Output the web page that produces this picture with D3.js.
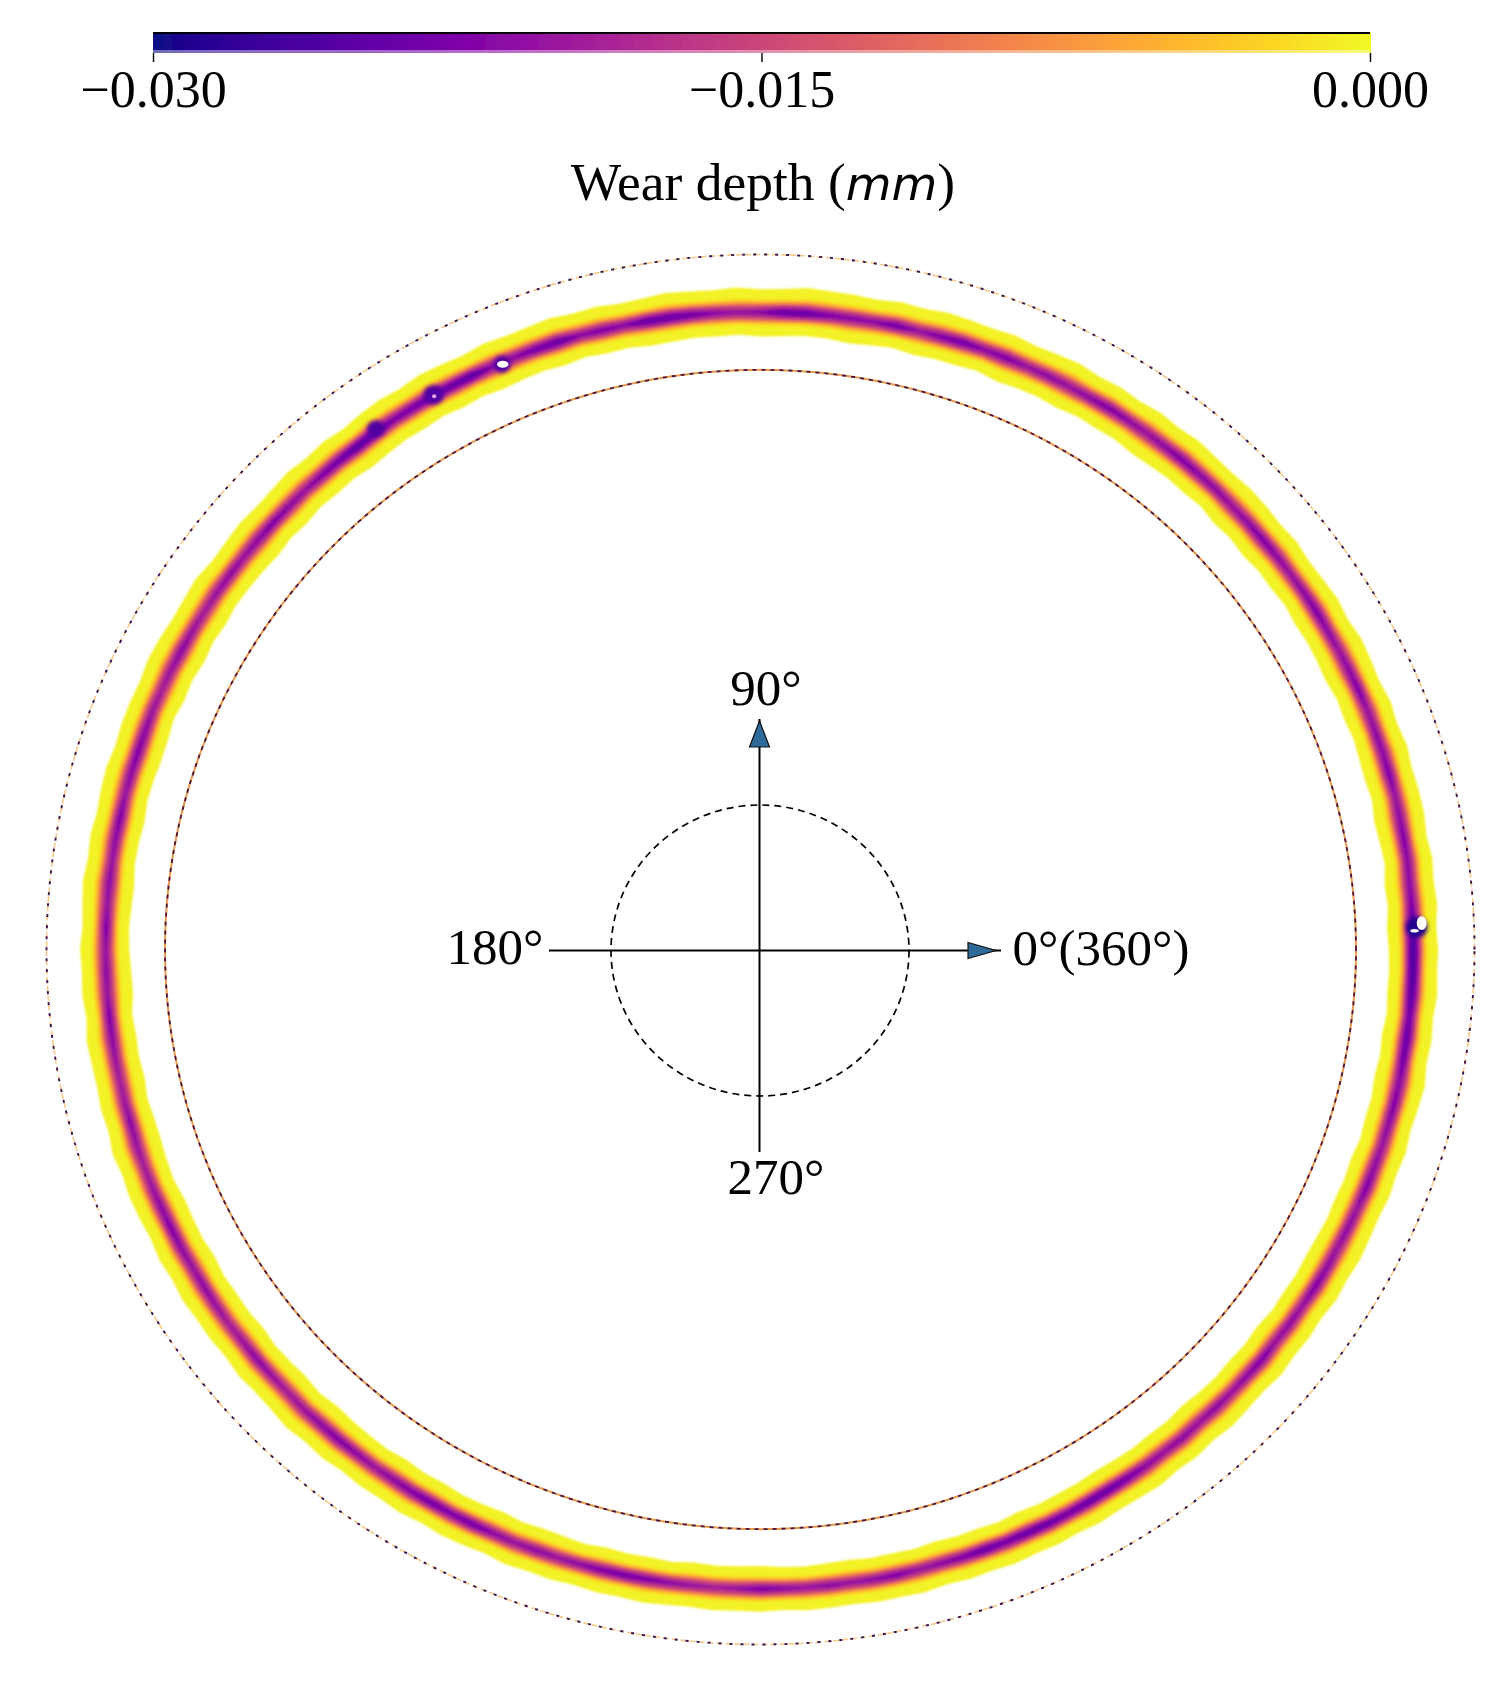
<!DOCTYPE html>
<html><head><meta charset="utf-8">
<script src="https://cdn.jsdelivr.net/npm/d3@7/dist/d3.min.js"></script>
<style>html,body{margin:0;padding:0;background:#fff}svg{display:block}text{font-family:"Liberation Serif",serif;fill:#000}</style>
</head><body><svg id="c" width="1504" height="1686"></svg>
<script>
// Samples every 2 degrees, counter-clockwise from 0 deg. Radius unit: outer rim = 100. 9 rows of 20 values.
const sampleAngles = d3.range(180).map(i => i * 2);
const coreRadius = [91.4,91.4,91.4,91.4,91.5,91.5,91.5,91.6,91.6,91.6,91.6,91.7,91.7,91.7,91.7,91.7,91.8,91.8,91.8,91.8,
91.8,91.8,91.8,91.9,91.9,91.9,91.9,91.9,91.9,91.9,91.8,91.8,91.8,91.8,91.8,91.8,91.8,91.7,91.7,91.7,
91.7,91.7,91.7,91.7,91.7,91.7,91.7,91.8,91.8,91.8,91.8,91.8,91.8,91.9,91.9,91.9,91.9,91.9,91.9,91.9,
91.9,91.9,91.9,91.9,91.8,91.8,91.8,91.8,91.8,91.8,91.8,91.8,91.8,91.8,91.8,91.8,91.8,91.8,91.8,91.8,
91.7,91.7,91.7,91.7,91.7,91.7,91.7,91.7,91.7,91.7,91.7,91.7,91.7,91.7,91.7,91.7,91.7,91.7,91.7,91.8,
91.8,91.8,91.8,91.8,91.8,91.8,91.8,91.9,91.9,91.9,91.9,91.9,91.9,92.0,92.0,92.0,92.0,92.0,92.0,92.0,
92.0,92.0,92.0,92.0,92.0,92.0,92.0,92.0,92.0,92.0,92.0,92.0,92.0,92.0,92.0,92.0,92.0,92.0,92.0,92.0,
92.0,92.0,91.9,91.9,91.9,91.9,91.9,91.9,91.9,91.9,91.8,91.8,91.8,91.8,91.8,91.8,91.7,91.7,91.7,91.7,
91.7,91.6,91.6,91.6,91.6,91.6,91.5,91.5,91.5,91.5,91.5,91.5,91.5,91.5,91.5,91.4,91.4,91.4,91.4,91.4];
const edgeOuter = [3.5,3.3,3.6,3.4,3.5,3.2,3.5,3.4,3.3,3.6,3.3,3.5,3.2,3.4,3.6,3.3,3.5,3.3,3.2,3.5,
3.3,3.5,3.6,3.3,3.4,3.6,3.3,3.5,3.2,3.4,3.3,3.6,3.4,3.2,3.5,3.3,3.4,3.6,3.3,3.5,
3.2,3.4,3.5,3.7,3.4,3.3,3.6,3.3,3.4,3.6,3.3,3.2,3.5,3.3,3.6,3.4,3.3,3.5,3.2,3.4,
3.6,3.3,3.5,3.4,3.2,3.5,3.3,3.6,3.4,3.3,3.5,3.3,3.2,3.6,3.4,3.3,3.5,3.6,3.3,3.4,
3.5,3.3,3.6,3.5,3.3,3.6,3.4,3.7,3.5,3.3,3.6,3.4,3.5,3.2,3.6,3.4,3.3,3.5,3.3,3.6,
3.3,3.5,3.4,3.2,3.5,3.3,3.6,3.3,3.4,3.2,3.5,3.3,3.4,3.6,3.3,3.5,3.2,3.4,3.3,3.5,
3.2,3.4,3.3,3.1,3.4,3.2,3.3,3.1,3.3,3.2,3.4,3.2,3.1,3.3,3.2,3.3,3.1,3.3,3.2,3.1,
3.3,3.2,3.4,3.1,3.3,3.2,3.4,3.2,3.3,3.1,3.4,3.2,3.3,3.5,3.2,3.4,3.2,3.5,3.3,3.2,
3.5,3.3,3.4,3.2,3.5,3.3,3.6,3.4,3.3,3.5,3.3,3.5,3.2,3.4,3.6,3.3,3.5,3.3,3.6,3.4];
const edgeInner = [3.4,3.6,3.3,3.5,3.2,3.4,3.6,3.3,3.5,3.4,3.2,3.5,3.3,3.6,3.4,3.3,3.5,3.2,3.4,3.3,
3.6,3.3,3.5,3.2,3.4,3.3,3.5,3.6,3.3,3.4,3.2,3.5,3.3,3.4,3.6,3.2,3.4,3.3,3.5,3.2,
3.4,3.6,3.3,3.2,3.4,3.5,3.2,3.4,3.3,3.5,3.6,3.3,3.4,3.2,3.5,3.3,3.4,3.6,3.3,3.5,
3.2,3.4,3.3,3.5,3.6,3.3,3.4,3.2,3.5,3.3,3.6,3.4,3.3,3.2,3.5,3.3,3.6,3.3,3.5,3.2,
3.4,3.5,3.3,3.2,3.5,3.3,3.2,3.5,3.4,3.2,3.3,3.5,3.6,3.2,3.4,3.3,3.5,3.2,3.4,3.5,
3.3,3.2,3.5,3.4,3.3,3.5,3.2,3.4,3.3,3.5,3.2,3.3,3.4,3.2,3.5,3.3,3.2,3.1,3.4,3.2,
3.3,3.1,3.2,3.4,3.1,3.3,3.2,3.0,3.3,3.1,3.2,3.0,3.3,3.1,3.2,3.3,3.1,3.0,3.2,3.3,
3.1,3.2,3.0,3.3,3.1,3.2,3.0,3.3,3.1,3.2,3.1,3.3,3.2,3.1,3.3,3.2,3.4,3.2,3.1,3.3,
3.2,3.4,3.1,3.3,3.2,3.4,3.3,3.2,3.4,3.3,3.5,3.2,3.4,3.3,3.6,3.3,3.5,3.2,3.4,3.3];
const peakDepth = [-27,-26,-23,-22,-22,-23,-22,-21,-23,-22,-22,-21,-23,-22,-21,-22,-23,-22,-21,-22,
-23,-22,-21,-22,-22,-23,-22,-21,-22,-23,-22,-21,-22,-21,-23,-22,-24,-23,-21,-24,
-22,-22,-23,-25,-25,-22,-21,-22,-24,-25,-25,-22,-23,-22,-25,-24,-22,-22,-26,-25,
-25,-24,-23,-26,-26,-24,-23,-21,-22,-23,-22,-21,-22,-21,-20,-21,-22,-21,-20,-21,
-22,-23,-22,-21,-23,-22,-21,-22,-21,-23,-21,-22,-21,-23,-22,-21,-20,-21,-22,-21,
-20,-21,-22,-23,-22,-21,-22,-21,-20,-21,-22,-21,-20,-21,-22,-23,-22,-21,-22,-23,
-24,-23,-24,-22,-21,-22,-21,-22,-23,-24,-23,-22,-21,-20,-21,-23,-22,-21,-22,-21,
-22,-23,-21,-22,-23,-25,-24,-25,-25,-24,-25,-25,-24,-22,-21,-22,-21,-22,-21,-22,
-23,-21,-22,-21,-23,-22,-21,-22,-21,-23,-22,-21,-22,-23,-22,-24,-25,-24,-26,-27];
const profileRatio = [0, .03, .1, .2, .35, .5, .7, .85, 1];
const profileWidth = [1, .6, .52, .45, .38, .32, .24, .13, 0];
const contourLevels = d3.range(0, -30, -1);
const pits = [[91.9,3.2,1.5,-29],[-36.2,84.2,1.2,-26],[-45.8,79.8,1.4,-26],[-53.9,74.9,1.2,-26]];
const holes = [[92.6,3.8,0.7,1.0,"#fff"],[91.6,2.7,0.6,0.25,"#fff"],[-36.1,84.2,0.8,0.5,"#fff"],[-45.7,79.6,0.3,0.3,"#e9a6f0"]];
const rims = [100, 83.4];
const barDomain = [-0.030, 0];
const barTicks = [-0.030, -0.015, 0];
const crossLabels = [["90°",766,705],["270°",776,1194],["180°",495,964],["0°(360°)",1101,965]];

const svg = d3.select("#c");
const defs = svg.append("defs");
defs.append("filter").attr("id","soft").append("feGaussianBlur").attr("stdDeviation",0.7);
defs.append("filter").attr("id","band").attr("x","-5%").attr("y","-5%").attr("width","110%").attr("height","110%")
  .append("feGaussianBlur").attr("stdDeviation",1.3);
defs.append("filter").attr("id","pit").attr("x","-60%").attr("y","-60%").attr("width","220%").attr("height","220%")
  .append("feGaussianBlur").attr("stdDeviation",2.2);
const root = svg.append("g").attr("filter","url(#soft)");

const x = d3.scaleLinear().domain([-100,100]).range([760.5-714, 760.5+714]);
const y = d3.scaleLinear().domain([-100,100]).range([949.5+695, 949.5-695]);
const rad = d3.scaleLinear().domain([0,360]).range([0,2*Math.PI]);
const color = d3.scaleSequential(d3.interpolatePlasma).domain([-30,0]);
const profile = d3.scaleLinear().domain(profileRatio).range(profileWidth).clamp(true);
const polar = (deg,r) => [x(r*Math.cos(rad(deg))), y(r*Math.sin(rad(deg)))];
const closed = d3.line().curve(d3.curveLinearClosed);

// colour bar
const bar = {l:153, r:1370, t:32, b:53};
const bx = d3.scaleLinear().domain(barDomain).range([bar.l,bar.r]);
const steps = d3.range(512).map(i => barDomain[0] + (barDomain[1]-barDomain[0])*i/511);
root.append("g").attr("shape-rendering","crispEdges").selectAll("rect").data(steps.slice(0,-1)).join("rect")
  .attr("x",d=>bx(d)).attr("y",bar.t).attr("width",(bar.r-bar.l)/511+1).attr("height",bar.b-bar.t)
  .attr("fill",d=>color(d*1000));
root.append("rect").attr("x",bar.l).attr("y",bar.t).attr("width",bar.r-bar.l).attr("height",2).attr("fill","#000");
root.append("rect").attr("x",bar.l).attr("y",bar.b-3).attr("width",bar.r-bar.l).attr("height",3).attr("fill","#fff").attr("opacity",0.4);
const axis = d3.axisBottom(bx).tickValues(barTicks).tickFormat(d3.format(".3f")).tickSize(9).tickPadding(10);
const ag = root.append("g").attr("transform",`translate(0,${bar.b})`).call(axis);
ag.select(".domain").remove();
ag.selectAll("line").attr("stroke","#000").attr("stroke-width",1.4);
ag.selectAll("text").attr("font-family","Liberation Serif").attr("font-size",52).attr("dy",null).attr("y",54);
const title = root.append("text").attr("x",763).attr("y",200).attr("text-anchor","middle").attr("font-size",53.5);
title.append("tspan").text("Wear depth (");
title.append("tspan").attr("font-family","DejaVu Sans").attr("font-style","italic").attr("font-size",47).text("mm");
title.append("tspan").text(")");

// wear band: nested contours
const bandG = root.append("g").attr("filter","url(#band)");
contourLevels.forEach(level => {
  const outer = sampleAngles.map((a,i)=>{
    const q = level/peakDepth[i];
    return polar(a, coreRadius[i] + (q >= 1 ? 0 : profile(q)*edgeOuter[i]));
  });
  const inner = sampleAngles.map((a,i)=>{
    const q = level/peakDepth[i];
    return polar(a, coreRadius[i] - (q >= 1 ? 0 : profile(q)*edgeInner[i]));
  });
  bandG.append("path").attr("d",closed(outer)+closed(inner)).attr("fill-rule","evenodd").attr("fill",color(level-0.5));
});
root.append("g").attr("filter","url(#pit)").selectAll("ellipse").data(pits).join("ellipse")
  .attr("cx",d=>x(d[0])).attr("cy",d=>y(d[1]))
  .attr("rx",d=>x(d[2])-x(0)).attr("ry",d=>y(0)-y(d[2])).attr("fill",d=>color(d[3]));
root.selectAll("ellipse.hole").data(holes).join("ellipse").attr("class","hole")
  .attr("cx",d=>x(d[0])).attr("cy",d=>y(d[1]))
  .attr("rx",d=>x(d[2])-x(0)).attr("ry",d=>y(0)-y(d[3])).attr("fill",d=>d[4]);

// rims
const rimPath = r => closed(d3.range(0,360,0.5).map(a=>polar(a,r)));
root.append("path").attr("d",rimPath(rims[0])).attr("fill","none").attr("stroke","#f9c98a").attr("stroke-width",1.6).attr("stroke-dasharray","6 3");
root.append("path").attr("d",rimPath(rims[0])).attr("fill","none").attr("stroke","#35124f").attr("stroke-width",1.9).attr("stroke-dasharray","3 8");
root.append("path").attr("d",rimPath(rims[1])).attr("fill","none").attr("stroke","#e79a4e").attr("stroke-width",2);
root.append("path").attr("d",rimPath(rims[1])).attr("fill","none").attr("stroke","#4a1540").attr("stroke-width",1.8).attr("stroke-dasharray","4 5");

// orientation cross
const cross = {x:759.5, y:950.5};
const g = root.append("g");
g.append("ellipse").attr("cx",cross.x+0.5).attr("cy",cross.y).attr("rx",149).attr("ry",145.5)
  .attr("fill","none").attr("stroke","#000").attr("stroke-width",1.7).attr("stroke-dasharray","7 5");
g.append("line").attr("x1",549).attr("x2",1001).attr("y1",cross.y).attr("y2",cross.y).attr("stroke","#000").attr("stroke-width",2);
g.append("line").attr("x1",cross.x).attr("x2",cross.x).attr("y1",719).attr("y2",1152).attr("stroke","#000").attr("stroke-width",2);
g.append("path").attr("d",closed([[968,cross.y-8],[968,cross.y+8],[996,cross.y]])).attr("fill","#2e6a99").attr("stroke","#111").attr("stroke-width",1.2);
g.append("path").attr("d",closed([[cross.x-10,747],[cross.x+10,747],[cross.x,721]])).attr("fill","#2e6a99").attr("stroke","#111").attr("stroke-width",1.2);
g.selectAll("text").data(crossLabels).join("text")
  .attr("x",d=>d[1]).attr("y",d=>d[2]).attr("text-anchor","middle").attr("font-size",51).text(d=>d[0]);
</script></body></html>
